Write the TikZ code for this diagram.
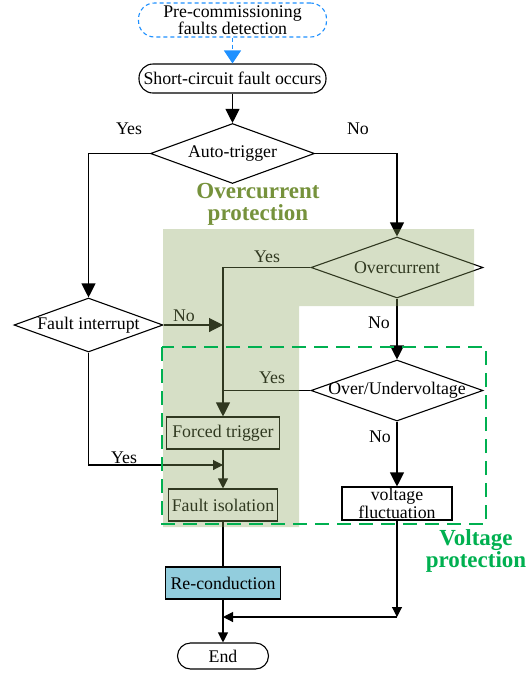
\documentclass[tikz,border=0pt]{standalone}
\usepackage{fontspec}
\setmainfont{Liberation Serif}
\usetikzlibrary{arrows.meta,shapes.geometric}
\definecolor{ocshade}{RGB}{138,163,92}
\definecolor{octext}{RGB}{118,146,60}
\definecolor{vpgreen}{RGB}{0,176,80}
\definecolor{preblue}{RGB}{30,144,255}
\definecolor{recond}{RGB}{146,205,221}

\begin{document}
\begin{tikzpicture}[x=1pt, y=-1pt, line width=1.1pt,
  every node/.style={font=\fontsize{17.8}{16}\selectfont},
  proc/.style={draw, rectangle, inner sep=0pt, fill=white},
  term/.style={draw, rectangle, rounded corners=13pt, inner sep=0pt},
  decision/.style={draw, diamond, inner sep=0pt},
  bigarrow/.style={-{Triangle[width=14pt,length=14pt]}},
  smallarrow/.style={-{Triangle[width=10pt,length=10pt]}}]
\useasboundingbox (0,0) rectangle (531,673);

% boxes
\node[term, draw=preblue, dash pattern=on 4pt off 3pt, rounded corners=16pt, minimum width=188pt, minimum height=34pt,
  align=center, font=\fontsize{17.8}{15}\selectfont] (pre) at (232.5,20) {Pre-commissioning\\faults detection};
\node[term, rounded corners=14pt, minimum width=187pt, minimum height=29pt] (sc) at (232.5,78.5) {Short-circuit fault occurs};
\node[decision, minimum width=164pt, minimum height=60pt] (auto) at (232.5,153.5) {\makebox[0pt]{Auto-trigger}};
\node[decision, minimum width=149pt, minimum height=54pt] (fint) at (88.5,325) {\makebox[0pt]{Fault interrupt}};
\node[decision, minimum width=172pt, minimum height=61pt] (oc) at (397,267.5) {\makebox[0pt]{Overcurrent}};
\node[decision, minimum width=172pt, minimum height=61pt] (ouv) at (397,390.5) {\makebox[0pt]{Over/Undervoltage}};
\node[proc, minimum width=113pt, minimum height=32pt] (ftrig) at (223,433) {Forced trigger};
\node[proc, minimum width=109pt, minimum height=32pt] (fiso) at (223,505) {Fault isolation};
\node[proc, minimum width=110pt, minimum height=33pt, align=center] (vfluc) at (397,503.5) {voltage\\fluctuation};
\node[proc, fill=recond, minimum width=115pt, minimum height=32pt] (recon) at (223,583) {Re-conduction};
\node[term, minimum width=91pt, minimum height=26pt] (end) at (223,656) {End};

% connectors
\draw[preblue, dash pattern=on 4pt off 3pt, -{Triangle[width=17pt,length=13pt]}] (pre) -- (sc);
\draw[bigarrow] (sc) -- (auto);
\draw[bigarrow] (auto.west) -| (fint.north);
\draw[bigarrow] (auto.east) -| (oc.north);
\draw[bigarrow] (fint.east) -- (fint.east -| ftrig.north);
\draw[bigarrow] (oc.west) -| (ftrig.north);
\draw (ouv.west) -- (ouv.west -| ftrig.north);
\draw[bigarrow] (oc) -- (ouv);
\draw[bigarrow] (ouv) -- (vfluc);
\coordinate (yesj) at (ftrig.south |- 0,465);
\draw[smallarrow] (fint.south) |- (yesj);
\draw[smallarrow] (ftrig) -- (fiso);
\draw (fiso) -- (recon);
\draw[smallarrow] (recon) -- (end);
\coordinate (merge) at (vfluc.south |- 0,617);
\draw[smallarrow] (vfluc) -- (merge);
\draw[smallarrow] (merge) -- (merge -| recon.south);

% yes / no
\foreach \t/\x/\y [count=\i] in {Yes/129/129, No/358/129, Yes/267/257, No/184/316,
  No/379/323, Yes/272/378, No/380/437, Yes/124/458}
  \node (lab\i) at (\x,\y) {\t};

% overcurrent protection area
\fill[ocshade, fill opacity=0.35] (163,229) -- (474,229) -- (474,306) -- (299,306) -- (299,527) -- (163,527) -- cycle;
\node[octext, align=center, font=\bfseries\fontsize{23}{22}\selectfont] (octitle) at (258,204) {Overcurrent\\protection};

% voltage protection area
\draw[vpgreen, line width=2pt, dash pattern=on 14pt off 8pt] (162,347) rectangle (486,524);
\node[vpgreen, align=center, font=\bfseries\fontsize{23}{22}\selectfont] (vptitle) at (476,551) {Voltage\\protection};
\end{tikzpicture}
\end{document}
